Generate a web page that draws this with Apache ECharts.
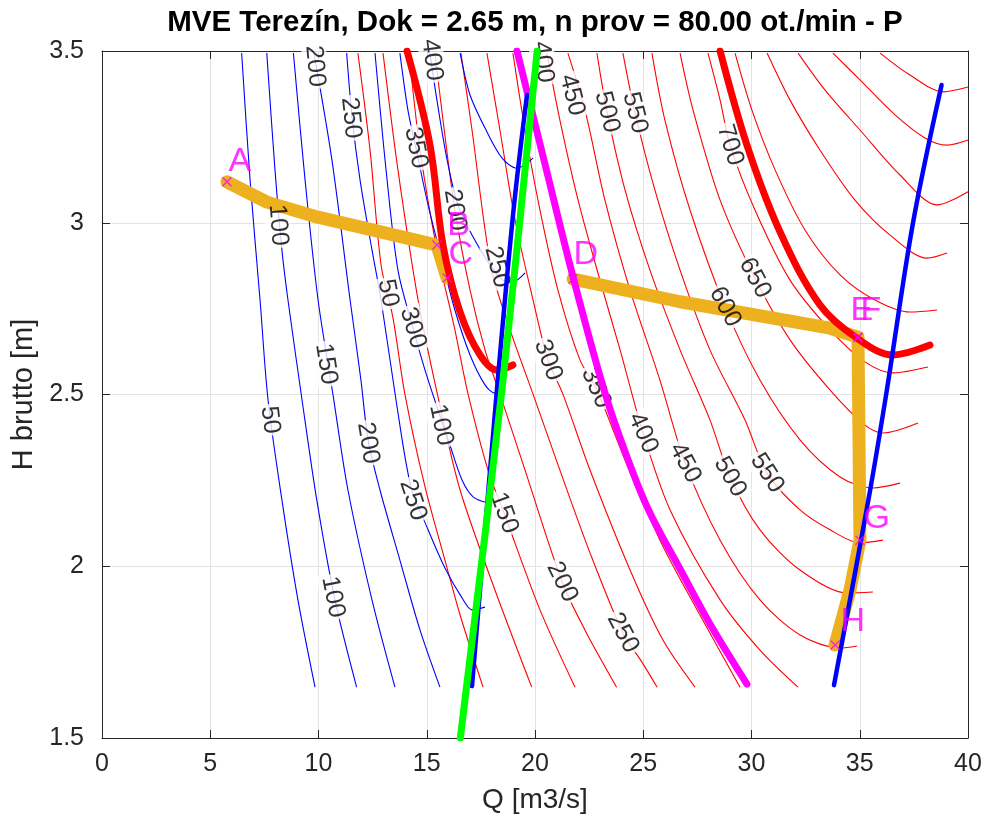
<!DOCTYPE html>
<html><head><meta charset="utf-8">
<script src="https://cdn.jsdelivr.net/npm/echarts/dist/echarts.min.js"></script>
<style>html,body{margin:0;padding:0;background:#fff}#c{width:986px;height:821px}</style>
</head><body><div id="c"></div>
<script>
// ---------- data (Q [m3/s], H brutto [m]) ----------
const titleText = 'MVE Terezín, Dok = 2.65 m, n prov = 80.00 ot./min - P';
const xLabel = 'Q [m3/s]';
const yLabel = 'H brutto [m]';

// blue contour lines
const blue050 = [[6.45,3.494],[6.84,3.124],[7.30,2.775],[7.67,2.484],[8.31,2.193],[9.05,1.902],[9.84,1.648]];
const blue100 = [[7.61,3.494],[7.99,3.154],[8.31,2.921],[8.59,2.775],[9.24,2.484],[9.92,2.193],[10.76,1.902],[11.76,1.648]];
const blue150 = [[8.84,3.494],[9.38,3.124],[9.98,2.775],[10.67,2.499],[11.36,2.222],[12.47,1.902],[13.53,1.648]];
const blue200 = [[9.79,3.494],[10.62,3.183],[11.46,2.775],[11.96,2.542],[12.29,2.368],[12.84,2.222],[13.76,2.018],[14.69,1.814],[15.61,1.648]];
const blue250 = [[11.30,3.494],[11.55,3.308],[11.92,3.124],[12.47,2.921],[12.89,2.775],[13.58,2.484],[14.27,2.231],[15.01,2.114],[15.84,1.995],[16.63,1.908],[17.09,1.873],[17.69,1.881]];
const blue300 = [[12.61,3.494],[13.12,3.154],[13.67,2.862],[14.36,2.694],[14.92,2.571],[15.52,2.455],[16.07,2.353],[16.63,2.251],[17.14,2.202],[17.83,2.184]];
const blue350 = [[13.76,3.494],[14.13,3.328],[14.50,3.218],[15.06,3.052],[15.70,2.892],[16.30,2.746],[17.00,2.615],[17.69,2.528],[18.15,2.504],[18.61,2.519]];
const blue400 = [[15.15,3.494],[15.47,3.357],[15.94,3.183],[16.44,3.052],[17.09,2.964],[17.83,2.886],[18.52,2.833],[18.98,2.828],[19.54,2.854]];
const blue450 = [[16.54,3.494],[17.00,3.372],[17.69,3.276],[18.48,3.188],[19.17,3.159],[19.91,3.188]];

// red contour lines
const red050 = [[11.82,3.494],[12.38,3.212],[12.89,2.877],[13.44,2.723],[13.99,2.501],[14.92,2.231],[15.84,2.018],[16.54,1.858],[17.60,1.648]];
const red100 = [[12.98,3.494],[13.67,3.154],[14.60,2.775],[15.52,2.493],[16.54,2.222],[18.15,1.931],[19.85,1.648]];
const red150 = [[14.18,3.494],[14.69,3.212],[15.47,2.921],[16.30,2.688],[16.91,2.501],[17.83,2.280],[18.57,2.155],[20.23,1.873],[21.85,1.648]];
const red200 = [[15.38,3.494],[15.75,3.299],[16.30,3.037],[17.00,2.804],[17.69,2.630],[18.38,2.501],[19.54,2.280],[21.25,1.954],[22.31,1.814],[23.77,1.648]];
const red250 = [[16.58,3.494],[17.09,3.270],[17.97,2.871],[18.85,2.688],[19.91,2.501],[21.15,2.280],[22.54,2.039],[24.06,1.806],[24.94,1.721],[25.64,1.648]];
const red300 = [[17.78,3.494],[18.38,3.270],[19.08,3.008],[19.91,2.775],[20.60,2.600],[21.29,2.501],[22.54,2.280],[24.39,1.989],[25.91,1.785],[27.39,1.648]];
const red350 = [[18.98,3.494],[19.54,3.270],[20.23,3.037],[21.06,2.804],[22.08,2.600],[22.82,2.519],[24.16,2.309],[25.77,2.076],[27.62,1.858],[29.47,1.648]];
const red400 = [[20.55,3.494],[21.15,3.299],[21.99,3.066],[23.00,2.833],[23.93,2.630],[24.99,2.388],[26.24,2.164],[28.55,1.902],[30.39,1.756],[32.15,1.648]];
const red450 = [[21.52,3.494],[22.31,3.328],[23.23,3.066],[24.39,2.804],[25.77,2.542],[26.93,2.301],[28.55,2.076],[30.39,1.902],[32.24,1.800],[34.09,1.762],[34.87,1.768]];
const red500 = [[22.86,3.494],[23.33,3.322],[24.16,3.095],[25.31,2.862],[26.70,2.630],[28.08,2.426],[29.01,2.260],[30.39,2.106],[32.24,1.989],[34.41,1.922],[35.61,1.925]];
const red550 = [[24.06,3.494],[24.62,3.320],[25.54,3.095],[26.70,2.862],[28.08,2.630],[29.70,2.426],[30.72,2.271],[32.24,2.164],[33.63,2.106],[35.01,2.068],[36.07,2.076]];
const red600 = [[25.40,3.494],[26.00,3.299],[27.16,3.037],[28.78,2.755],[30.39,2.542],[32.24,2.368],[34.09,2.260],[35.61,2.228],[36.86,2.242]];
const red650 = [[26.70,3.494],[27.30,3.328],[28.55,3.066],[30.16,2.839],[31.78,2.659],[33.63,2.513],[35.24,2.411],[36.07,2.388],[37.69,2.417]];
const red700 = [[27.99,3.494],[28.55,3.357],[29.01,3.226],[30.16,3.037],[31.78,2.833],[33.63,2.688],[35.24,2.595],[36.54,2.563],[38.15,2.580]];
const red750 = [[29.24,3.494],[30.02,3.328],[31.09,3.154],[32.47,2.979],[34.09,2.848],[35.70,2.775],[37.32,2.740],[38.57,2.746]];
const red800 = [[30.72,3.494],[31.78,3.357],[33.16,3.212],[34.78,3.066],[36.40,2.964],[38.11,2.897],[39.03,2.912]];
const red850 = [[32.15,3.494],[33.40,3.386],[35.01,3.270],[36.86,3.139],[38.57,3.052],[40.00,3.090]];
const red900 = [[33.76,3.494],[35.01,3.416],[36.63,3.314],[38.01,3.247],[39.03,3.226],[40.00,3.241]];
const red950 = [[35.94,3.494],[37.32,3.430],[38.85,3.381],[40.00,3.395]];

// contour label texts and positions
const blueLabels = [['200',9.84,3.456],['250',11.50,3.305],['100',8.13,2.993],['50',7.76,2.426],['100',10.67,1.910],['150',10.35,2.589],['200',12.29,2.359],['250',14.36,2.193],['300',14.36,2.694],['350',14.50,3.218],['400',15.24,3.474]];
const blueLabelAngles = [-85,-84,-86,-83,-79,-81,-81,-72,-74,-79,-83];
const redLabels = [['50',13.21,2.795],['100',15.66,2.411],['150',18.57,2.155],['200',16.30,3.037],['200',21.25,1.954],['250',18.24,2.871],['250',24.06,1.806],['300',20.60,2.600],['350',22.82,2.519],['400',20.37,3.468],['400',24.99,2.388],['450',21.71,3.372],['450',26.93,2.301],['500',23.33,3.322],['500',29.01,2.260],['550',24.62,3.320],['550',30.72,2.271],['600',28.78,2.755],['650',30.16,2.839],['700',29.01,3.226]];
const redLabelAngles = [-79,-78,-70,-81,-64,-76,-62,-70,-67,-83,-66,-76,-62,-76,-60,-76,-57,-62,-62,-73];

// thick curves
const redThickLeft = [[14.09,3.5],[15.15,3.226],[15.75,2.935],[16.54,2.740],[17.46,2.615],[18.24,2.571],[18.98,2.586]];
const redThickRight = [[28.55,3.5],[29.79,3.226],[31.32,2.973],[33.16,2.761],[34.87,2.664],[36.54,2.615],[38.24,2.644]];
const magentaCurve = [[19.17,3.5],[20.46,3.171],[21.76,2.842],[23.19,2.513],[24.11,2.342],[25.22,2.167],[26.70,1.992],[28.22,1.817],[29.79,1.657]];
const greenLine = [[16.55,1.5],[18.46,2.507],[20.10,3.5]];
const blueThickLeft = [[17.09,1.651],[18.24,2.513],[19.00,3.032],[19.63,3.372]];
const blueThickRight = [[33.81,1.654],[35.40,2.193],[36.24,2.508],[37.47,3.003],[38.78,3.401]];

// operating path
const pathABC = [[5.77,3.119],[7.62,3.060],[9.93,3.017],[15.47,2.935],[15.94,2.839]];
const pathDH = [[21.76,2.836],[26.70,2.770],[33.63,2.693],[34.92,2.667],[35.01,2.076],[34.55,1.931],[33.86,1.771]];
const pointNames = ['A','B','C','D','E','F','G','H'];
const pointMarks = [[5.77,3.119],[15.47,2.935],[15.94,2.839],[21.76,2.836],[34.92,2.667],[34.92,2.667],[35.01,2.076],[33.86,1.771]];
const pointLabelPos = [[5.82,3.177],[15.92,2.991],[15.98,2.906],[21.76,2.906],[34.55,2.743],[35.01,2.743],[35.15,2.138],[34.09,1.838]];

// ---------- chart ----------
const FONT = '"Liberation Sans", Arial, Helvetica, sans-serif';
const AX = '#262626';
const blueSet = [blue050,blue100,blue150,blue200,blue250,blue300,blue350,blue400,blue450];
const redSet = [red050,red100,red150,red200,red250,red300,red350,red400,red450,red500,red550,red600,red650,red700,red750,red800,red850,red900,red950];

const series = [];
function thin(d, color){
  series.push({type:'line', data:d, smooth:0.3, symbol:'none', silent:true, z:2,
    lineStyle:{color:color, width:1.1}});
}
redSet.forEach(d=>thin(d,'#ff0000'));
blueSet.forEach(d=>thin(d,'#0000ff'));

// contour labels: white gap boxes (below the path band) and the digits (above it)
function labelSeries(list, angles, boxOnly, z){
  series.push({type:'scatter', silent:true, z:z, symbolSize:1,
    itemStyle:{color:'rgba(0,0,0,0)'},
    data:list.map((l,i)=>({name:l[0], value:[l[1],l[2]], label:{rotate:angles[i]}})),
    label:{show:true, position:'inside', formatter:p=>p.name, fontSize:25, fontFamily:FONT,
      color: boxOnly ? 'rgba(0,0,0,0)' : '#000',
      backgroundColor: boxOnly ? '#fff' : 'transparent', padding:[0,2]}});
}
labelSeries(blueLabels, blueLabelAngles, true, 3);
labelSeries(redLabels, redLabelAngles, true, 3);

[pathABC, pathDH].forEach(d=>series.push({type:'line', data:d, smooth:false, symbol:'none', silent:true, z:4,
  lineStyle:{color:'#EDB120', width:13, cap:'round', join:'round'}}));

labelSeries(blueLabels, blueLabelAngles, false, 5);
labelSeries(redLabels, redLabelAngles, false, 5);

function thick(d,color,w,z){
  series.push({type:'line', data:d, smooth:0.35, symbol:'none', silent:true, z:z,
    lineStyle:{color:color, width:w, cap:'round', join:'round'}});
}
thick(redThickLeft,'#ff0000',7,6);
thick(redThickRight,'#ff0000',7,6);
thick(magentaCurve,'#ff00ff',7,6);
thick(blueThickLeft,'#0000ff',4.5,6);
thick(blueThickRight,'#0000ff',4.5,6);
thick(greenLine,'#00ff00',7,7);

series.push({type:'scatter', silent:true, z:8, symbol:'path://M0,1L1,0L5,4L9,0L10,1L6,5L10,9L9,10L5,6L1,10L0,9L4,5Z',
  symbolSize:10, itemStyle:{color:'#ff00ff'}, data:pointMarks});
series.push({type:'scatter', silent:true, z:9, symbolSize:1, itemStyle:{color:'rgba(0,0,0,0)'},
  data:pointLabelPos.map((p,i)=>({name:pointNames[i], value:p})),
  label:{show:true, position:'right', distance:0, formatter:p=>p.name, fontSize:34, fontFamily:FONT, color:'#ff00ff'}});

const axisCommon = {type:'value', axisLine:{show:true, onZero:false, lineStyle:{color:AX, width:1}},
  axisTick:{show:true, inside:true, length:8, lineStyle:{color:AX}}};

const option = {
  animation:false,
  backgroundColor:'#fff',
  grid:{left:102, top:51, width:866, height:687, containLabel:false},
  graphic:[{type:'text', x:535, y:23, style:{text:titleText, fontSize:29.5, fontWeight:'bold', fontFamily:FONT,
    fill:'#000', textAlign:'center', textVerticalAlign:'middle'}}],
  xAxis:[
    Object.assign({}, axisCommon, {min:0, max:40, interval:5, position:'bottom',
      axisLabel:{color:AX, fontSize:25, fontFamily:FONT, margin:14},
      splitLine:{show:true, lineStyle:{color:'#e3e3e3', width:1}},
      name:xLabel, nameLocation:'middle', nameGap:48, nameTextStyle:{fontSize:28, color:AX, fontFamily:FONT}}),
    Object.assign({}, axisCommon, {min:0, max:40, interval:5, position:'top', axisLabel:{show:false}, splitLine:{show:false}})
  ],
  yAxis:[
    Object.assign({}, axisCommon, {min:1.5, max:3.5, interval:0.5, position:'left',
      axisLabel:{color:AX, fontSize:25, fontFamily:FONT, margin:18},
      splitLine:{show:true, lineStyle:{color:'#e3e3e3', width:1}},
      name:yLabel, nameLocation:'middle', nameGap:55, nameTextStyle:{fontSize:29, color:AX, fontFamily:FONT}}),
    Object.assign({}, axisCommon, {min:1.5, max:3.5, interval:0.5, position:'right', axisLabel:{show:false}, splitLine:{show:false}})
  ],
  series:series
};
const chart = echarts.init(document.getElementById('c'), null, {renderer:'canvas'});
chart.setOption(option);
</script></body></html>
